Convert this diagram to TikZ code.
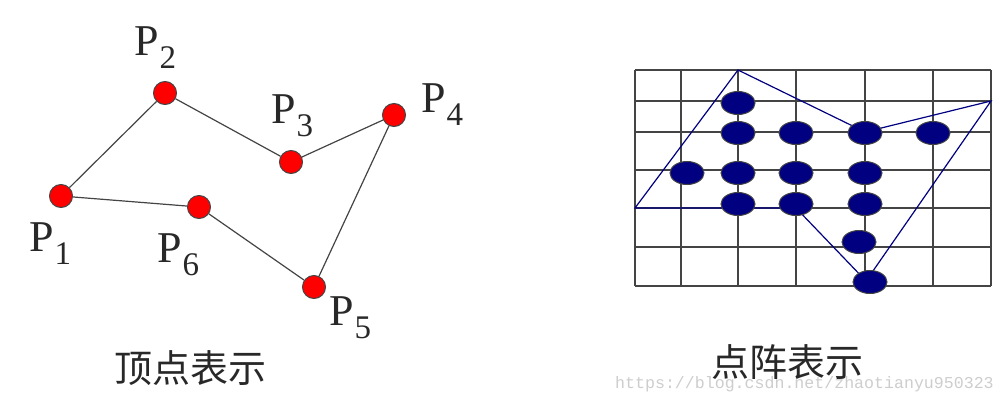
\documentclass[tikz,border=0pt]{standalone}
\usepackage{fontspec}
\setmainfont{Liberation Serif}
\newfontfamily\cjk{Noto Sans CJK SC}
\newfontfamily\wmfont{Liberation Mono}
\usetikzlibrary{shapes.geometric}
\definecolor{navyb}{RGB}{0,0,128}
\definecolor{gridc}{RGB}{68,68,68}
\definecolor{txtc}{RGB}{40,40,40}
\definecolor{wmc}{RGB}{205,205,205}
\tikzset{
  vtx/.style={circle,fill=red,draw=gridc,line width=1pt,minimum size=23pt,inner sep=0pt},
  edge/.style={draw=gridc,line width=1.2pt},
  plabel/.style={anchor=base west,inner sep=0pt,text=txtc},
  dot/.style={ellipse,fill=navyb,draw=gridc,line width=1pt,minimum width=34pt,minimum height=23pt,inner sep=0pt},
  gridl/.style={draw=gridc,line width=1.3pt},
  poly/.style={draw=navyb,line width=1.2pt},
  captext/.style={text=txtc,inner sep=0pt,font=\cjk\fontsize{38}{38}\selectfont},
}
\newcommand{\plab}[1]{\fontsize{44}{44}\selectfont P\kern1pt\raisebox{-13pt}{\fontsize{33}{33}\selectfont #1}}
\begin{document}
\begin{tikzpicture}[x=1pt,y=-1pt]
\useasboundingbox (0,0) rectangle (1005,402);
% left: vertex representation
\node[vtx] (p1) at (61,196) {};
\node[vtx] (p2) at (165,93) {};
\node[vtx] (p3) at (291,162) {};
\node[vtx] (p4) at (394,115) {};
\node[vtx] (p5) at (314,287) {};
\node[vtx] (p6) at (199,207) {};
\draw[edge] (p1) -- (p2);
\draw[edge] (p2) -- (p3);
\draw[edge] (p3) -- (p4);
\draw[edge] (p4) -- (p5);
\draw[edge] (p5) -- (p6);
\draw[edge] (p6) -- (p1);
\node[plabel] (l1) at (29,251) {\plab{1}};
\node[plabel] (l2) at (134,55) {\plab{2}};
\node[plabel] (l3) at (271,123) {\plab{3}};
\node[plabel] (l4) at (421,112) {\plab{4}};
\node[plabel] (l5) at (329,325) {\plab{5}};
\node[plabel] (l6) at (157,262) {\plab{6}};
\node[captext] (c1) at (190,368) {顶点表示};
% right: grid
\foreach \x in {635,681,738,796,865,933,991} \draw[gridl] (\x,70) -- (\x,286);
\foreach \y in {70,101,132,170,208,247,286} \draw[gridl] (635,\y) -- (991,\y);
% polygon
\coordinate (A) at (738,70);
\coordinate (B) at (865,132);
\coordinate (C) at (991,101);
\coordinate (D) at (866,281);
\coordinate (E) at (796,208);
\coordinate (F) at (635,208);
\draw[poly] (A) -- (B) -- (C) -- (D) -- (E) -- (F) -- cycle;
% dots
\node[dot] (d1) at (738,103) {};
\node[dot] (d2) at (738,133) {};
\node[dot] (d3) at (796,133) {};
\node[dot] (d4) at (865,133) {};
\node[dot] (d5) at (933,133) {};
\node[dot] (d6) at (687,173) {};
\node[dot] (d7) at (738,173) {};
\node[dot] (d8) at (796,173) {};
\node[dot] (d9) at (865,173) {};
\node[dot] (d10) at (738,204) {};
\node[dot] (d11) at (796,204) {};
\node[dot] (d12) at (865,204) {};
\node[dot] (d13) at (859,242) {};
\node[dot] (d14) at (870,282) {};
\node[captext] (c2) at (787,362) {点阵表示};
\node[inner sep=0pt,anchor=base west,text=wmc,font=\wmfont\fontsize{16.6}{16.6}\selectfont] (wm) at (615,388) {https://blog.csdn.net/zhaotianyu950323};
\end{tikzpicture}
\end{document}
